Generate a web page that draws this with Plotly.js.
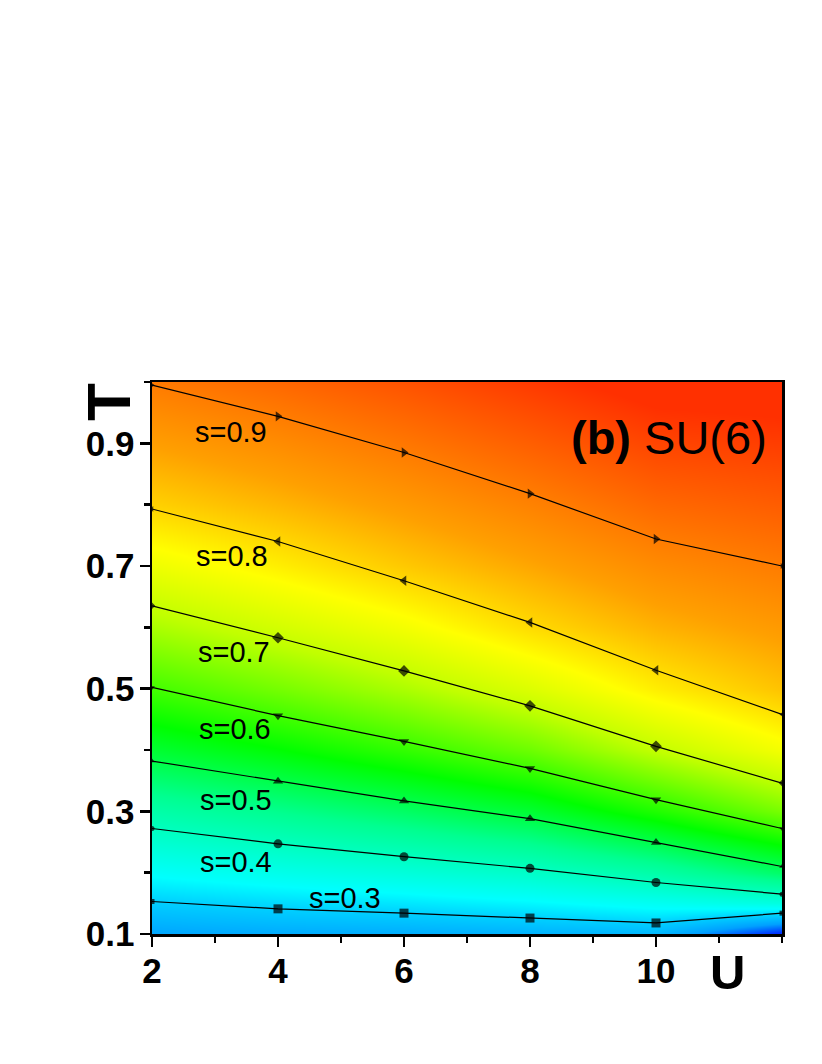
<!DOCTYPE html>
<html>
<head>
<meta charset="utf-8">
<script src="https://cdn.plot.ly/plotly-3.0.1.min.js"></script>
<style>html,body{margin:0;padding:0;background:#fff;}#chart{width:822px;height:1064px;}</style>
</head>
<body>
<div id="chart"></div>
<script>
// ---- data ----
const U = [2, 4, 6, 8, 10, 12];
const levelNames = ['s=0.3', 's=0.4', 's=0.5', 's=0.6', 's=0.7', 's=0.8', 's=0.9'];
const T_s03 = [0.153, 0.141, 0.134, 0.126, 0.118, 0.134];
const T_s04 = [0.272, 0.247, 0.226, 0.207, 0.184, 0.165];
const T_s05 = [0.382, 0.349, 0.317, 0.288, 0.249, 0.210];
const T_s06 = [0.502, 0.456, 0.414, 0.370, 0.319, 0.272];
const T_s07 = [0.635, 0.583, 0.529, 0.472, 0.406, 0.346];
const T_s08 = [0.793, 0.740, 0.676, 0.608, 0.530, 0.458];
const T_s09 = [0.995, 0.944, 0.885, 0.818, 0.744, 0.700];

// background entropy field s(U,T), estimated from the picture's colours
const bgU = [2, 4, 6, 8, 10, 12];
const bgT = [0.10, 0.15, 0.20, 0.30, 0.40, 0.50, 0.60, 0.70, 0.80, 0.90, 1.00];
const bgS = [
  [0.255, 0.261, 0.263, 0.268, 0.273, 0.190],
  [0.297, 0.308, 0.317, 0.330, 0.348, 0.367],
  [0.340, 0.356, 0.372, 0.391, 0.425, 0.478],
  [0.425, 0.452, 0.481, 0.515, 0.573, 0.638],
  [0.515, 0.548, 0.586, 0.629, 0.693, 0.748],
  [0.598, 0.635, 0.675, 0.721, 0.776, 0.817],
  [0.674, 0.711, 0.748, 0.794, 0.833, 0.859],
  [0.741, 0.775, 0.811, 0.844, 0.879, 0.900],
  [0.803, 0.829, 0.859, 0.891, 0.926, 0.941],
  [0.853, 0.878, 0.907, 0.939, 0.973, 0.983],
  [0.902, 0.927, 0.955, 0.987, 1.020, 1.024]
];

const xTickVals = [2, 4, 6, 8, 10];
const yTickVals = [0.1, 0.3, 0.5, 0.7, 0.9];

// ---- styling ----
const series = [T_s03, T_s04, T_s05, T_s06, T_s07, T_s08, T_s09];
const symbols = ['square', 'circle', 'triangle-up', 'triangle-down', 'diamond', 'triangle-left', 'triangle-right'];
const markerSizes = [5, 9, 9, 9, 9, 5];
const labelPos = [[5.06, 0.159], [3.33, 0.217], [3.33, 0.318], [3.32, 0.434], [3.30, 0.560], [3.27, 0.716], [3.25, 0.919]];
const FONT = 'Liberation Sans, Arial, Helvetica, sans-serif';

const colorscale = [
  [0.0, '#0030ff'],
  [0.0625, '#00a0ff'],
  [0.125, '#00d0ff'],
  [0.169, '#00ffff'],
  [0.3125, '#00ff90'],
  [0.4375, '#00ff00'],
  [0.6125, '#c0ff00'],
  [0.70, '#ffff00'],
  [0.8125, '#ffa000'],
  [0.875, '#ff7c00'],
  [1.0, '#ff3000']
];

const traces = [{
  type: 'heatmap', x: bgU, y: bgT, z: bgS,
  zmin: 0.2, zmax: 1.0, zsmooth: 'best',
  colorscale: colorscale, showscale: false, hoverinfo: 'skip'
}];

series.forEach((T, i) => {
  traces.push({
    type: 'scatter', mode: 'lines+markers', x: U, y: T, name: levelNames[i],
    line: {color: '#000', width: 1.2},
    marker: {symbol: symbols[i], size: markerSizes, color: '#000', line: {width: 0, color: '#000'}},
    cliponaxis: true, showlegend: false
  });
});

const annotations = levelNames.map((t, i) => ({
  x: labelPos[i][0], y: labelPos[i][1], xref: 'x', yref: 'y',
  text: t, showarrow: false, xanchor: 'center', yanchor: 'middle',
  font: {family: FONT, size: 29, color: '#000'}
}));
annotations.push({
  x: 11.8, y: 0.91, xref: 'x', yref: 'y', xanchor: 'right', yanchor: 'middle',
  text: '<b>(b)</b> SU(6)', showarrow: false,
  font: {family: FONT, size: 47, color: '#000'}
});
annotations.push({
  x: -0.068, y: 0.964, xref: 'paper', yref: 'paper', xanchor: 'center', yanchor: 'middle',
  text: '<b>T</b>', textangle: -90, showarrow: false,
  font: {family: FONT, size: 62, color: '#000'}
});
annotations.push({
  x: 0.914, y: -0.069, xref: 'paper', yref: 'paper', xanchor: 'center', yanchor: 'middle',
  text: '<b>U</b>', showarrow: false,
  font: {family: FONT, size: 49, color: '#000'}
});

const layout = {
  width: 822, height: 1064,
  margin: {l: 152, r: 40, t: 382, b: 130, pad: 0},
  paper_bgcolor: '#fff', plot_bgcolor: '#fff',
  showlegend: false,
  xaxis: {
    range: [2, 12], tickvals: xTickVals, ticktext: xTickVals.map(String),
    ticks: 'outside', ticklen: 10, tickwidth: 2.5, tickcolor: '#000',
    minor: {dtick: 1, tick0: 0, ticks: 'outside', ticklen: 6, tickwidth: 2.5, tickcolor: '#000'},
    showline: true, linewidth: 2.5, linecolor: '#000', mirror: true,
    showgrid: false, zeroline: false,
    tickfont: {family: FONT, size: 35, color: '#000', weight: 'bold'},
    ticklabelstandoff: -6
  },
  yaxis: {
    range: [0.1, 1.0], tickvals: yTickVals, ticktext: yTickVals.map(v => v.toFixed(1)),
    ticks: 'outside', ticklen: 10, tickwidth: 2.5, tickcolor: '#000',
    minor: {dtick: 0.2, tick0: 0.2, ticks: 'outside', ticklen: 6, tickwidth: 2.5, tickcolor: '#000'},
    showline: true, linewidth: 2.5, linecolor: '#000', mirror: true,
    showgrid: false, zeroline: false,
    tickfont: {family: FONT, size: 35, color: '#000', weight: 'bold'},
    ticklabelstandoff: -2
  },
  annotations: annotations
};

Plotly.newPlot('chart', traces, layout, {staticPlot: true, displayModeBar: false});
</script>
</body>
</html>
